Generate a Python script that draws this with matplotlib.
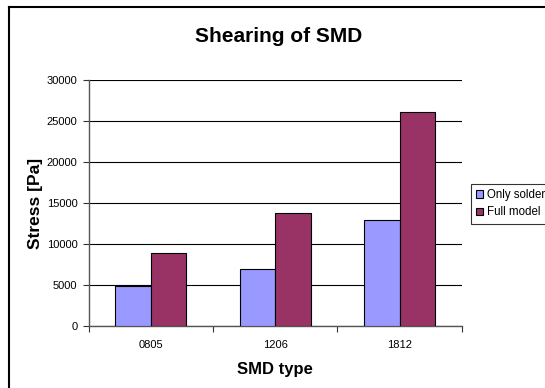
import matplotlib
matplotlib.use("Agg")
import matplotlib.pyplot as plt
from matplotlib.lines import Line2D
import numpy as np

plt.rcParams["font.family"] = ["Liberation Sans", "DejaVu Sans"]

categories = ["0805", "1206", "1812"]
only_solder = [4900, 6950, 12950]
full_model = [8950, 13750, 26050]
series_names = ["Only solder", "Full model"]
yticks = [0, 5000, 10000, 15000, 20000, 25000, 30000]

SOLDER = "#9999FF"
FULL = "#993366"

W, H = 545, 388
fig = plt.figure(figsize=(W / 100, H / 100), dpi=100)
fig.patch.set_facecolor("white")

# outer chart-area frame (runs off the right/bottom edge like the original)
fig.add_artist(Line2D([9 / W, 9 / W], [1 - 7 / H, -0.1], transform=fig.transFigure,
                      color="black", lw=1.5))
fig.add_artist(Line2D([9 / W, 1.1], [1 - 7 / H, 1 - 7 / H], transform=fig.transFigure,
                      color="black", lw=1.5))

ax = fig.add_axes([88.5 / W, 62 / H, 373.5 / W, 246 / H])
x = np.arange(len(categories))
w = 0.287
ax.bar(x - w / 2, only_solder, w, color=SOLDER, edgecolor="black", lw=0.8,
       label=series_names[0], zorder=3)
ax.bar(x + w / 2, full_model, w, color=FULL, edgecolor="black", lw=0.8,
       label=series_names[1], zorder=3)

ax.set_xlim(-0.5, len(categories) - 0.5)
ax.set_ylim(0, 30000)
ax.set_yticks(yticks)
ax.set_yticklabels([str(v) for v in yticks])
ax.set_xticks(x)
ax.set_xticklabels(categories)
ax.set_xticks(np.arange(len(categories) + 1) - 0.5, minor=True)
ax.tick_params(axis="x", which="major", length=0, pad=10, labelsize=8)
ax.tick_params(axis="x", which="minor", length=4, width=0.8, direction="out", color="#333333")
ax.tick_params(axis="y", length=4, width=0.8, direction="out", pad=4, labelsize=8,
               color="#333333")
ax.yaxis.grid(True, color="black", lw=0.8)
ax.set_axisbelow(True)
for s in ("top", "right"):
    ax.spines[s].set_visible(False)
for s in ("left", "bottom"):
    ax.spines[s].set_color("#555555")
    ax.spines[s].set_linewidth(1.0)

fig.text(279 / W, 1 - 42 / H, "Shearing of SMD", ha="center", va="baseline",
         fontsize=15, fontweight="bold")
fig.text(275 / W, 1 - 374 / H, "SMD type", ha="center", va="baseline",
         fontsize=12, fontweight="bold")
fig.text(35.7 / W, 1 - 203 / H, "Stress [Pa]", ha="center", va="center",
         rotation=90, fontsize=12.5, fontweight="bold")

leg = fig.legend(loc="upper left", bbox_to_anchor=(471 / W, 1 - 184 / H), fontsize=8.3,
                 frameon=True, fancybox=False, edgecolor="black", handlelength=0.6,
                 handleheight=0.6, handletextpad=0.3, borderpad=0.45, labelspacing=0.45,
                 borderaxespad=0)
leg.get_frame().set_linewidth(0.8)

fig.savefig("out.png", dpi=100)
